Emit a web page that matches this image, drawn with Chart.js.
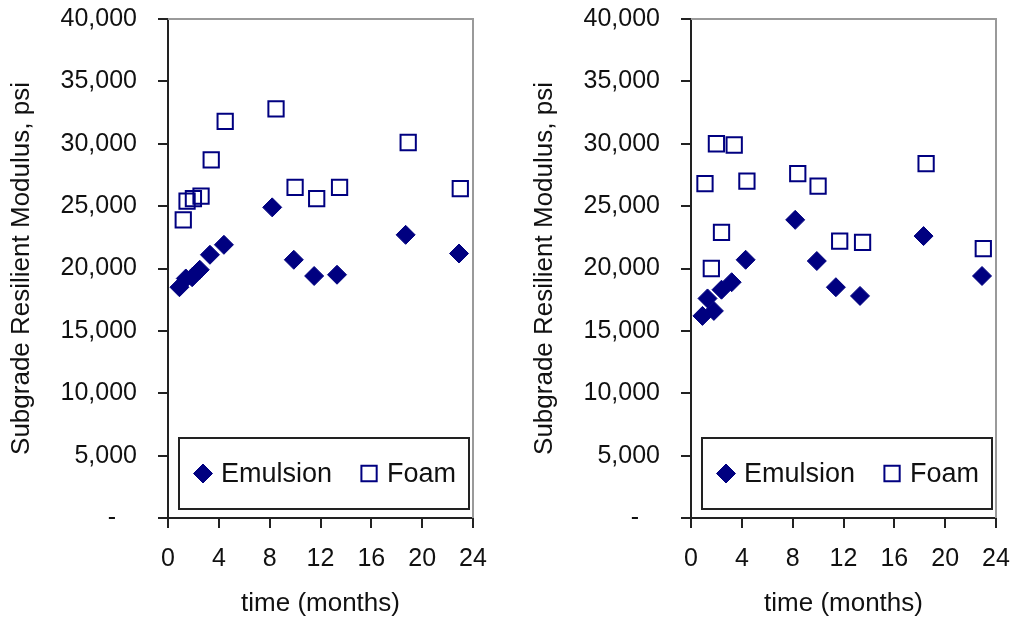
<!DOCTYPE html>
<html>
<head>
<meta charset="utf-8">
<title>Subgrade Resilient Modulus</title>
<script src="https://cdn.jsdelivr.net/npm/chart.js@4.4.1/dist/chart.umd.min.js"></script>
<style>
  html, body { margin: 0; padding: 0; background: #fff; }
  body { width: 1016px; height: 622px; position: relative; overflow: hidden; }
  .panel { position: absolute; top: 0; }
  .left { left: 0; }
  .right { left: 523px; }
</style>
</head>
<body>
<canvas id="leftChart" class="panel left" width="490" height="622"></canvas>
<canvas id="rightChart" class="panel right" width="490" height="622"></canvas>
<script>
// tick labels
const xTicks = [0, 4, 8, 12, 16, 20, 24];
const yTicks = [0, 5000, 10000, 15000, 20000, 25000, 30000, 35000, 40000];
const seriesNames = ['Emulsion', 'Foam'];

// left panel (months, psi)
const leftEmulsionMonths = [0.9, 1.4, 1.9, 2.5, 3.3, 4.4, 8.2, 9.9, 11.5, 13.3, 18.7, 22.9];
const leftEmulsionPsi    = [18500, 19200, 19300, 19900, 21100, 21900, 24900, 20700, 19400, 19500, 22700, 21200];
const leftFoamMonths     = [1.2, 1.5, 2.0, 2.6, 3.4, 4.5, 8.5, 10.0, 11.7, 13.5, 18.9, 23.0];
const leftFoamPsi        = [23900, 25400, 25600, 25800, 28700, 31800, 32800, 26500, 25600, 26500, 30100, 26400];

// right panel (months, psi)
const rightEmulsionMonths = [0.9, 1.3, 1.8, 2.4, 3.2, 4.3, 8.2, 9.9, 11.4, 13.3, 18.3, 22.9];
const rightEmulsionPsi    = [16200, 17600, 16600, 18300, 18900, 20700, 23900, 20600, 18500, 17800, 22600, 19400];
const rightFoamMonths     = [1.1, 1.6, 2.0, 2.4, 3.4, 4.4, 8.4, 10.0, 11.7, 13.5, 18.5, 23.0];
const rightFoamPsi        = [26800, 20000, 30000, 22900, 29900, 27000, 27600, 26600, 22200, 22100, 28400, 21600];

const navy = '#000080';

Chart.defaults.font.family = '"Liberation Sans", Arial, Helvetica, sans-serif';
Chart.defaults.color = '#111';

function toPoints(months, values) {
    return months.map((m, i) => ({ x: m, y: values[i] }));
}

// gray frame on top and right of the plot area
const framePlugin = {
    id: 'frame',
    beforeDatasetsDraw(chart) {
        const a = chart.chartArea;
        const ctx = chart.ctx;
        ctx.save();
        ctx.strokeStyle = '#9a9a9a';
        ctx.lineWidth = 2;
        ctx.beginPath();
        ctx.moveTo(a.left, a.top);
        ctx.lineTo(a.right, a.top);
        ctx.lineTo(a.right, a.bottom);
        ctx.stroke();
        ctx.restore();
    }
};

// boxed legend sitting inside the plot area, near the bottom
const boxLegendPlugin = {
    id: 'boxLegend',
    afterDraw(chart) {
        const a = chart.chartArea;
        const ctx = chart.ctx;
        const left = a.left + 11, right = a.right - 4;
        const bottom = a.bottom - 9, top = bottom - 71;
        const midY = (top + bottom) / 2;
        ctx.save();
        ctx.fillStyle = '#fff';
        ctx.fillRect(left, top, right - left, bottom - top);
        ctx.strokeStyle = '#222';
        ctx.lineWidth = 2;
        ctx.strokeRect(left, top, right - left, bottom - top);

        ctx.font = '27px "Liberation Sans", Arial, sans-serif';
        ctx.textBaseline = 'middle';
        ctx.textAlign = 'left';
        let x = left + 24;
        chart.data.datasets.forEach((ds, i) => {
            ctx.fillStyle = ds.backgroundColor;
            ctx.strokeStyle = ds.borderColor;
            ctx.lineWidth = ds.borderWidth;
            Chart.helpers.drawPoint(ctx, {
                pointStyle: ds.pointStyle,
                radius: ds.pointRadius,
                rotation: 0,
                borderWidth: ds.borderWidth
            }, x, midY);
            ctx.fillStyle = '#111';
            const tx = x + 18;
            ctx.fillText(ds.label, tx, midY + 1);
            x = tx + ctx.measureText(ds.label).width + 37;
        });
        ctx.restore();
    }
};

function makePanel(canvasId, emMonths, emPsi, foMonths, foPsi) {
    const ctx = document.getElementById(canvasId);
    return new Chart(ctx, {
        type: 'scatter',
        data: {
            datasets: [{
                label: seriesNames[0],
                data: toPoints(emMonths, emPsi),
                pointStyle: 'rectRot',
                pointRadius: 9.5,
                backgroundColor: navy,
                borderColor: navy,
                borderWidth: 1
            }, {
                label: seriesNames[1],
                data: toPoints(foMonths, foPsi),
                pointStyle: 'rect',
                pointRadius: 10.8,
                backgroundColor: 'rgba(255,255,255,0)',
                borderColor: navy,
                borderWidth: 2
            }]
        },
        options: {
            responsive: false,
            animation: false,
            events: [],
            layout: { autoPadding: false, padding: { left: 0, right: 17, top: 19, bottom: 0 } },
            plugins: {
                legend: { display: false },
                tooltip: { enabled: false }
            },
            scales: {
                x: {
                    type: 'linear',
                    min: 0,
                    max: 24,
                    afterBuildTicks: s => { s.ticks = xTicks.map(v => ({ value: v })); },
                    afterFit: s => {
                        s.height = 104;
                        s.paddingLeft = 0;
                        s.paddingRight = 0;
                    },
                    ticks: {
                        font: { size: 25 },
                        padding: 16,
                        maxRotation: 0
                    },
                    grid: {
                        drawOnChartArea: false,
                        drawTicks: true,
                        tickLength: 10,
                        color: '#222',
                        lineWidth: 2
                    },
                    border: { color: '#222', width: 2 },
                    title: {
                        display: true,
                        text: 'time (months)',
                        font: { size: 26 },
                        padding: { top: 4, bottom: 3 }
                    }
                },
                y: {
                    type: 'linear',
                    min: 0,
                    max: 40000,
                    afterBuildTicks: s => { s.ticks = yTicks.map(v => ({ value: v })); },
                    afterFit: s => {
                        s.width = 168;
                        s.paddingTop = 0;
                        s.paddingBottom = 0;
                    },
                    ticks: {
                        font: { size: 25 },
                        padding: 21,
                        callback: v => v === 0 ? '-   ' : v.toLocaleString('en-US')
                    },
                    grid: {
                        drawOnChartArea: false,
                        drawTicks: true,
                        tickLength: 10,
                        color: '#222',
                        lineWidth: 2
                    },
                    border: { color: '#222', width: 2 },
                    title: {
                        display: true,
                        text: 'Subgrade Resilient Modulus, psi',
                        font: { size: 26 },
                        padding: { top: 6, bottom: 4 }
                    }
                }
            }
        },
        plugins: [framePlugin, boxLegendPlugin]
    });
}

makePanel('leftChart', leftEmulsionMonths, leftEmulsionPsi, leftFoamMonths, leftFoamPsi);
makePanel('rightChart', rightEmulsionMonths, rightEmulsionPsi, rightFoamMonths, rightFoamPsi);
</script>
</body>
</html>
